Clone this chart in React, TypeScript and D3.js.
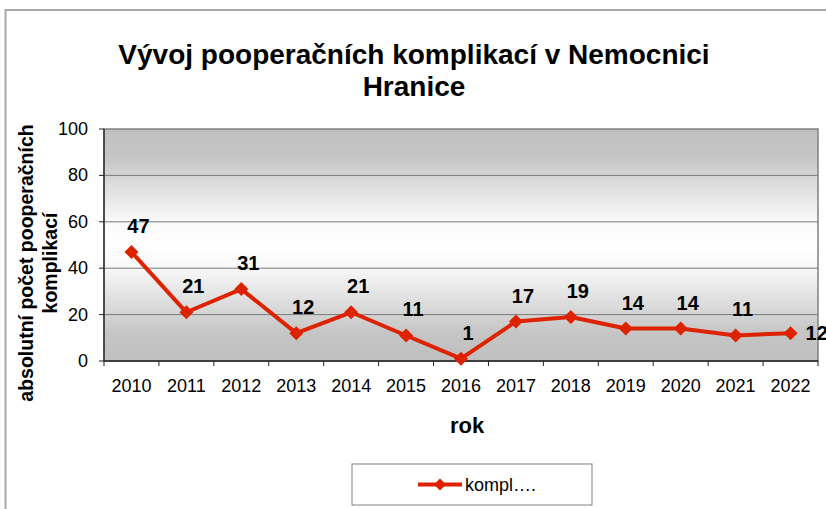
import React from "react";
import * as d3 from "d3";

const years: string[] = ["2010","2011","2012","2013","2014","2015","2016","2017","2018","2019","2020","2021","2022"];
const complications: number[] = [47, 21, 31, 12, 21, 11, 1, 17, 19, 14, 14, 11, 12];
const yTicks: number[] = [0, 20, 40, 60, 80, 100];
const titleLines: string[] = ["Vývoj pooperačních komplikací v Nemocnici", "Hranice"];
const yTitleLines: string[] = ["absolutní počet pooperačních", "komplikací"];
const xTitle = "rok";
const seriesName = "kompl….";

const W = 826, H = 509;
const plot = { left: 104, right: 818, top: 129, bottom: 361 };
const RED = "#dd2200";
const FONT = "'Liberation Sans', Arial, sans-serif";

export default function App() {
  const x = d3.scaleBand<string>().domain(years).range([plot.left, plot.right]).padding(0);
  const y = d3.scaleLinear().domain([0, 100]).range([plot.bottom, plot.top]);
  const cx = (d: string) => (x(d) as number) + x.bandwidth() / 2;
  const pts = years.map((yr, i) => ({ yr, v: complications[i] }));
  const line = d3.line<{ yr: string; v: number }>().x((d) => cx(d.yr)).y((d) => y(d.v));
  const diamond = (px: number, py: number, r = 7) =>
    `M${px},${py - r}L${px + r},${py}L${px},${py + r}L${px - r},${py}Z`;
  const boundaries = years.map((d) => x(d) as number).concat([plot.right]);

  return (
    <svg width={W} height={H} style={{ position: "fixed", left: 0, top: 0, background: "#fff" }} fontFamily={FONT}>
      <defs>
        <linearGradient id="bg" x1="0" y1="0" x2="0" y2="1">
          <stop offset="0" stopColor="#bfbfbf" />
          <stop offset="0.12" stopColor="#c5c5c5" />
          <stop offset="0.4" stopColor="#fafafa" />
          <stop offset="0.5" stopColor="#ffffff" />
          <stop offset="0.6" stopColor="#f8f8f8" />
          <stop offset="0.88" stopColor="#c5c5c5" />
          <stop offset="1" stopColor="#bfbfbf" />
        </linearGradient>
      </defs>
      {/* outer chart border */}
      <rect x={5.5} y={10} width={W + 10} height={H + 10} fill="none" stroke="#aaaaaa" strokeWidth={2} />

      {/* title */}
      {titleLines.map((t, i) => (
        <text key={i} x={414} y={64 + i * 32} textAnchor="middle" fontSize={28} fontWeight="bold" fill="#000">
          {t}
        </text>
      ))}

      {/* plot area */}
      <rect x={plot.left} y={plot.top} width={plot.right - plot.left} height={plot.bottom - plot.top} fill="url(#bg)" stroke="#808080" strokeWidth={1.5} />
      {yTicks.filter((t) => t > 0 && t < 100).map((t) => (
        <line key={t} x1={plot.left} x2={plot.right} y1={y(t)} y2={y(t)} stroke="#7a7a7a" strokeWidth={1} />
      ))}

      {/* axes */}
      <line x1={plot.left} x2={plot.left} y1={plot.top} y2={plot.bottom} stroke="#222" strokeWidth={1.3} />
      <line x1={plot.left} x2={plot.right} y1={plot.bottom} y2={plot.bottom} stroke="#222" strokeWidth={1.3} />
      {yTicks.map((t) => (
        <g key={t}>
          <line x1={plot.left - 5} x2={plot.left} y1={y(t)} y2={y(t)} stroke="#222" />
          <text x={88} y={y(t)} textAnchor="end" dominantBaseline="central" fontSize={18} fill="#000">
            {t}
          </text>
        </g>
      ))}
      {boundaries.map((bx, i) => (
        <line key={i} x1={bx} x2={bx} y1={plot.bottom} y2={plot.bottom + 5} stroke="#222" />
      ))}
      {years.map((yr) => (
        <text key={yr} x={cx(yr)} y={392} textAnchor="middle" fontSize={18} fill="#000">
          {yr}
        </text>
      ))}

      {/* axis titles */}
      <text x={467} y={433} textAnchor="middle" fontSize={22} fontWeight="bold" fill="#000">
        {xTitle}
      </text>
      {yTitleLines.map((t, i) => (
        <text key={i} transform={`translate(${33 + i * 24},263) rotate(-90)`} textAnchor="middle" fontSize={19.5} fontWeight="bold" fill="#000">
          {t}
        </text>
      ))}

      {/* series */}
      <path d={line(pts) || ""} fill="none" stroke={RED} strokeWidth={4} strokeLinejoin="round" />
      {pts.map((p) => (
        <path key={p.yr} d={diamond(cx(p.yr), y(p.v))} fill={RED} />
      ))}
      {pts.map((p, i) =>
        i === pts.length - 1 ? (
          <text key={p.yr} x={cx(p.yr) + 15} y={y(p.v)} dominantBaseline="central" fontSize={20} fontWeight="bold" fill="#000">
            {p.v}
          </text>
        ) : (
          <text key={p.yr} x={cx(p.yr) + 7} y={y(p.v) - 19} textAnchor="middle" fontSize={20} fontWeight="bold" fill="#000">
            {p.v}
          </text>
        )
      )}

      {/* legend */}
      <rect x={352} y={464} width={240} height={41} fill="#fff" stroke="#808080" strokeWidth={1} />
      <line x1={418} x2={462} y1={484.5} y2={484.5} stroke={RED} strokeWidth={4} />
      <path d={diamond(440, 484.5, 6)} fill={RED} />
      <text x={465} y={485} dominantBaseline="central" fontSize={18} fill="#000">
        {seriesName}
      </text>
    </svg>
  );
}
